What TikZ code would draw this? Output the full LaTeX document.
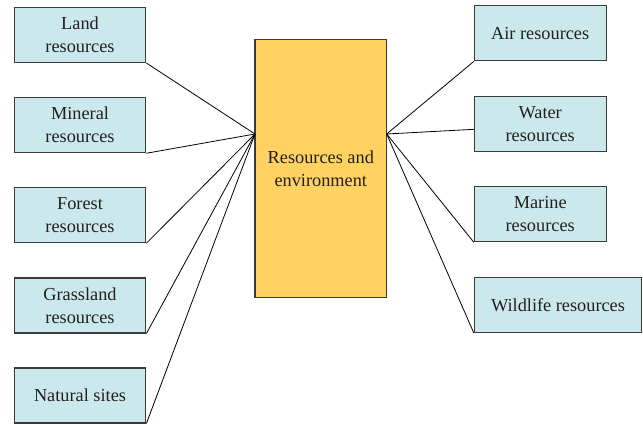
\documentclass[tikz,border=0pt]{standalone}
\usepackage{fontspec}
\setmainfont{Liberation Serif}
\definecolor{boxfill}{HTML}{CBE9EC}
\definecolor{ctrfill}{HTML}{FFD261}
\definecolor{ink}{HTML}{231F20}
\definecolor{edge}{HTML}{3A3A3A}
\begin{document}
\begin{tikzpicture}[x=1pt,y=-1pt,
  resbox/.style={draw=edge,line width=1.1pt,fill=boxfill,minimum width=131.7pt,minimum height=55pt,
    inner sep=0pt,align=center,text=ink,font=\fontsize{18.3}{23}\selectfont},
  ctrbox/.style={draw=edge,line width=1.1pt,fill=ctrfill,minimum width=131.7pt,minimum height=257.7pt,
    inner sep=0pt,align=center,text=ink,font=\fontsize{18.3}{23}\selectfont},
  link/.style={draw=black,line width=0.8pt}]
\useasboundingbox (0,0) rectangle (643,425);
\node[ctrbox] (ctr) at (320.8,168.8) {Resources and\\environment};
\node[resbox] (land) at (80,35) {Land\\resources};
\node[resbox] (mineral) at (80,125.2) {Mineral\\resources};
\node[resbox] (forest) at (80,215.2) {Forest\\resources};
\node[resbox] (grass) at (80,305.5) {Grassland\\resources};
\node[resbox] (natural) at (80,395.5) {Natural sites};
\node[resbox] (air) at (540.2,33.4) {Air resources};
\node[resbox] (water) at (540.2,123.8) {Water\\resources};
\node[resbox] (marine) at (540.2,214.2) {Marine\\resources};
\node[resbox,minimum width=167.4pt] (wild) at (558,304.8) {Wildlife resources};
\coordinate (cL) at (255,134);
\coordinate (cR) at (386.7,134);
\coordinate (wIn) at (474.3,129.3);
\draw[link] (land.south east) -- (cL);
\draw[link] (mineral.south east) -- (cL);
\draw[link] (forest.south east) -- (cL);
\draw[link] (grass.south east) -- (cL);
\draw[link] (natural.south east) -- (cL);
\draw[link] (air.south west) -- (cR);
\draw[link] (wIn) -- (cR);
\draw[link] (marine.south west) -- (cR);
\draw[link] (wild.south west) -- (cR);
\end{tikzpicture}
\end{document}
